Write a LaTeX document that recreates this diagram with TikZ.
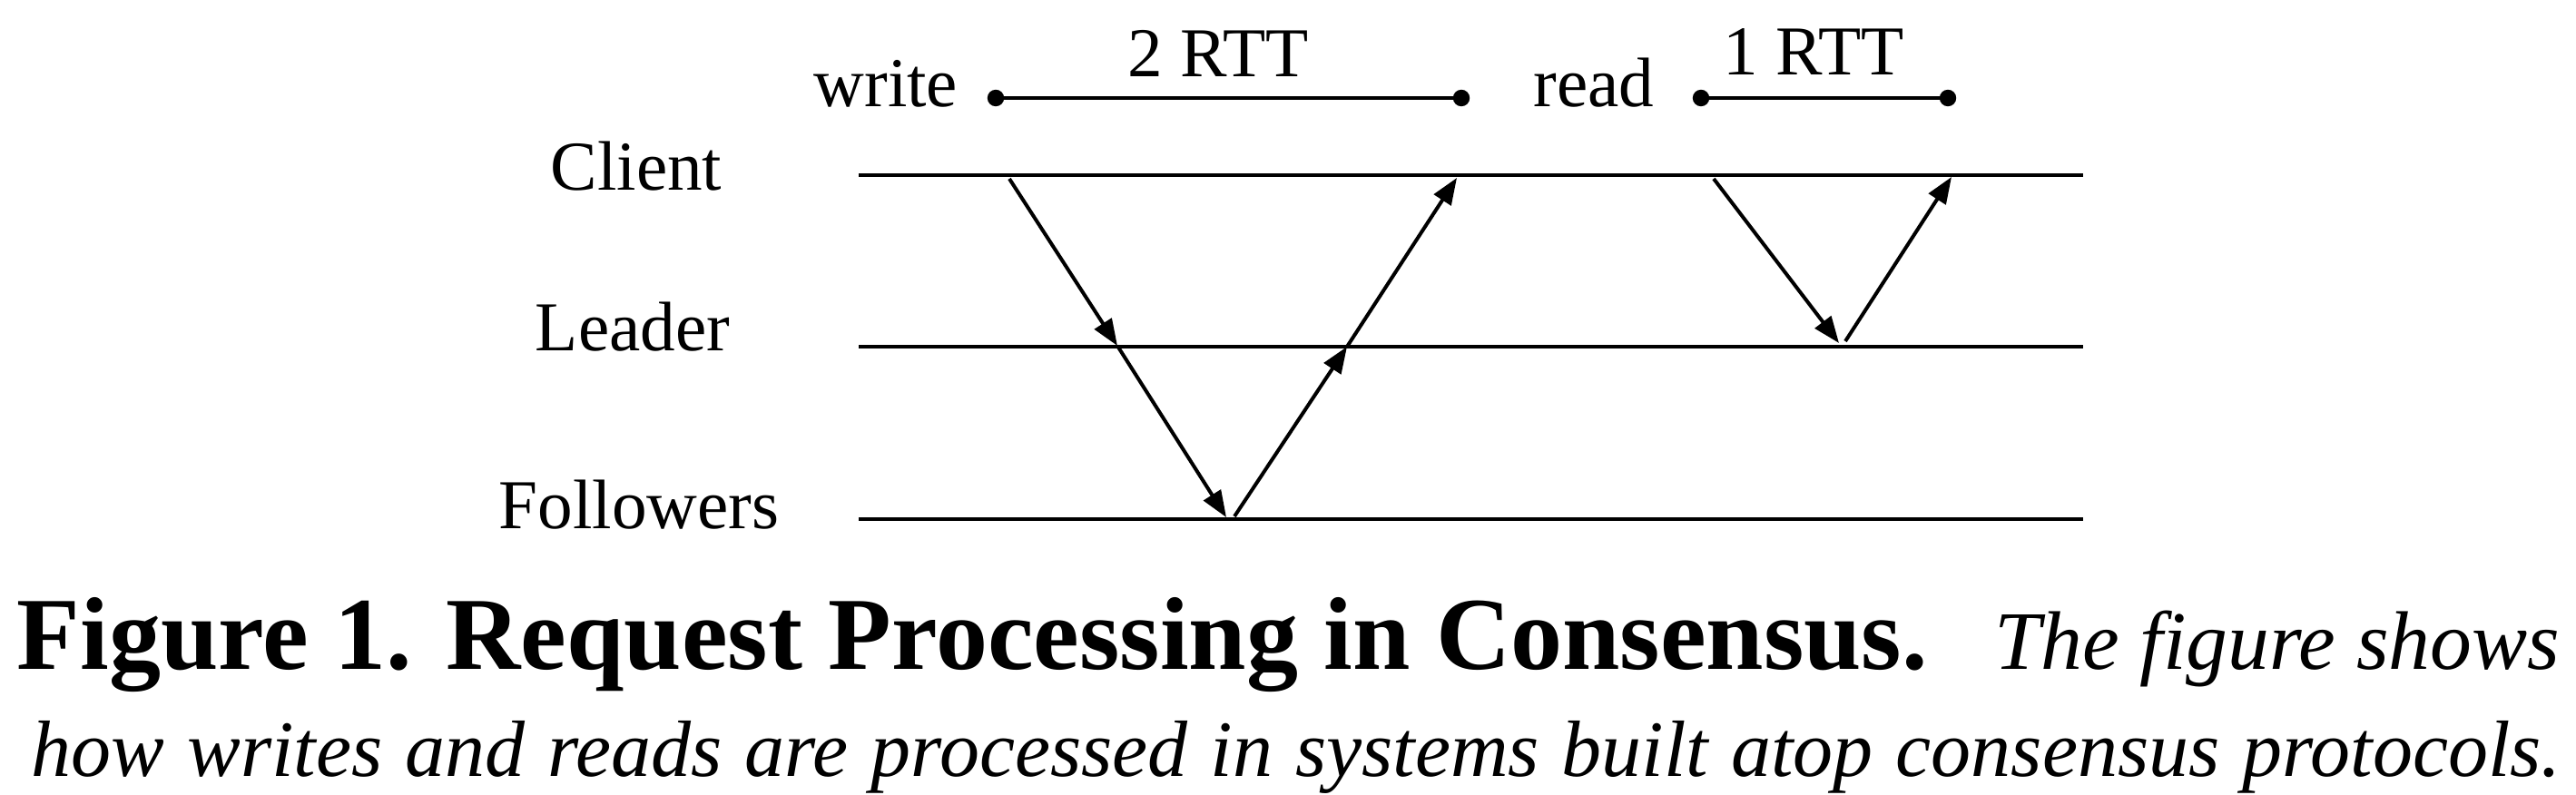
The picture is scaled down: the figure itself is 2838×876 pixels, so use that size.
\documentclass[tikz,border=0pt]{standalone}
\usepackage{fontspec}
\setmainfont{Liberation Serif}
\usetikzlibrary{arrows.meta}
\begin{document}
\begin{tikzpicture}[x=0.25pt,y=-0.25pt,
  lane/.style={line width=1pt},
  msg/.style={line width=1pt,-{Triangle[length=7.3pt,width=5.5pt]}},
  bar/.style={line width=1pt},
  dot/.style={circle,fill,inner sep=0pt,minimum size=4.6pt},
  lbl/.style={inner sep=0pt,anchor=base,font=\fontsize{19.3}{22}\selectfont},
  capb/.style={inner sep=0pt,font=\fontsize{28.5}{32}\selectfont\bfseries},
  capi/.style={inner sep=0pt,font=\fontsize{22}{26}\selectfont\itshape}]
\useasboundingbox (0,0) rectangle (2838,876);

% lanes
\coordinate (cL) at (946,193);  \coordinate (cR) at (2295,193);
\coordinate (lL) at (946,382);  \coordinate (lR) at (2295,382);
\coordinate (fL) at (946,572);  \coordinate (fR) at (2295,572);
\draw[lane] (cL) -- (cR);
\draw[lane] (lL) -- (lR);
\draw[lane] (fL) -- (fR);

\node[lbl] (client) at (701,210) {Client};
\node[lbl] (leader) at (697,387) {Leader};
\node[lbl] (follow) at (704,583) {Followers};

% write messages
\coordinate (c1) at (1112,197);
\coordinate (l1) at (1231,381);
\coordinate (f1) at (1351,570);
\coordinate (f2) at (1360,569);
\coordinate (l2) at (1484,382);
\coordinate (c2) at (1605,196);
\draw[msg] (c1) -- (l1);
\draw[msg] (l1) -- (f1);
\draw[msg] (f2) -- (l2);
\draw[msg] (l2) -- (c2);

% read messages
\coordinate (c3) at (1888,197);
\coordinate (l3) at (2026,378);
\coordinate (l4) at (2033,376);
\coordinate (c4) at (2150,195);
\draw[msg] (c3) -- (l3);
\draw[msg] (l4) -- (c4);

% timing bars
\node[dot] (w1) at (1097,108) {};
\node[dot] (w2) at (1610,108) {};
\draw[bar] (w1.center) -- (w2.center);
\node[dot] (r1) at (1874,108) {};
\node[dot] (r2) at (2146,108) {};
\draw[bar] (r1.center) -- (r2.center);

\node[lbl] (rtt2) at (1342,85) {2 RTT};
\node[lbl] (rtt1) at (1998,83) {1 RTT};
\node[lbl,anchor=base east] (write) at (1056,118) {write};
\node[lbl,anchor=base east] (read) at (1823,118) {read};

% caption
\node[capb,anchor=base west] (cap1) at (18,737) {Figure 1. Request Processing in Consensus.};
\node[capi,anchor=base east,font=\fontsize{22.9}{26}\selectfont\itshape] (cap2) at (2821,737) {The figure shows};
\node[capi,anchor=base west] (cap3) at (34,855) {\makebox[696.75pt][s]{how writes and reads are processed in systems built atop consensus protocols.}};
\end{tikzpicture}
\end{document}
